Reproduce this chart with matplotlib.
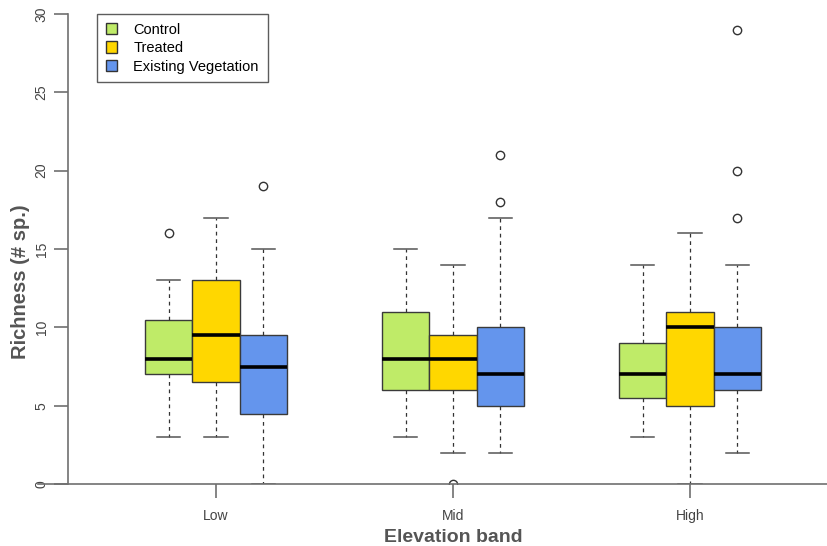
import matplotlib.pyplot as plt
from matplotlib.patches import Patch

plt.rcParams['font.family'] = ['Liberation Sans', 'DejaVu Sans']

bands = ["Low", "Mid", "High"]
treatments = ["Control", "Treated", "Existing Vegetation"]
colors = ["#BFEB68", "#FFD700", "#6495ED"]

# five-number summaries per band: [whislo, q1, med, q3, whishi]
control = [[3, 7, 8, 10.5, 13], [3, 6, 8, 11, 15], [3, 5.5, 7, 9, 14]]
treated = [[3, 6.5, 9.5, 13, 17], [2, 6, 8, 9.5, 14], [0, 5, 10, 11, 16]]
existing = [[0, 4.5, 7.5, 9.5, 15], [2, 5, 7, 10, 17], [2, 6, 7, 10, 14]]

control_out = [[16], [], []]
treated_out = [[], [0], []]
existing_out = [[19], [18, 21], [17, 20, 29]]

series = [(control, control_out), (treated, treated_out), (existing, existing_out)]

W, H = 827, 546
fig = plt.figure(figsize=(W / 100, H / 100), dpi=100)
ax = fig.add_axes([38 / W, (H - 484) / H, (W - 38) / W, (484 - 14) / H])

axis_col = "#707070"
text_col = "#555555"
offsets = [-0.2, 0.0, 0.2]

for k, (summ, outs) in enumerate(series):
    stats = []
    for s, o in zip(summ, outs):
        stats.append(dict(whislo=s[0], q1=s[1], med=s[2], q3=s[3], whishi=s[4], fliers=o))
    pos = [i + 1 + offsets[k] for i in range(len(bands))]
    ax.bxp(stats, positions=pos, widths=0.2, patch_artist=True, capwidths=0.1,
           boxprops=dict(facecolor=colors[k], edgecolor="#3a3a3a", linewidth=1),
           medianprops=dict(color="black", linewidth=2.6),
           whiskerprops=dict(color="#333333", linestyle=(0, (3, 3)), linewidth=0.9),
           capprops=dict(color="#555555", linewidth=1.1),
           flierprops=dict(marker="o", markerfacecolor="none", markeredgecolor="#333333",
                           markersize=6, markeredgewidth=1))

ax.set_xlim(0.249, 3.578)
ax.set_ylim(0, 30)

for side in ["top", "right"]:
    ax.spines[side].set_visible(False)
ax.spines["left"].set_position(("data", 0.376))
ax.spines["left"].set_bounds(0, 30)
for side in ["left", "bottom"]:
    ax.spines[side].set_color(axis_col)
    ax.spines[side].set_linewidth(1.2)

ax.set_xticks([1, 2, 3])
ax.set_xticklabels(bands)
ax.set_yticks([0, 5, 10, 15, 20, 25, 30])
ax.tick_params(axis="both", length=10, width=1.2, color=axis_col, labelcolor="#444444",
               labelsize=10)
ax.tick_params(axis="x", pad=8)
ax.tick_params(axis="y", pad=4)
for lab in ax.get_yticklabels():
    lab.set_rotation(90)
    lab.set_va("center")

fig.text(453 / W, 1 - 537 / H, "Elevation band", ha="center", va="center",
         fontsize=14, fontweight="bold", color=text_col)
fig.text(21 / W, 1 - 282 / H, "Richness (# sp.)", ha="center", va="center", rotation=90,
         fontsize=14.5, fontweight="bold", color=text_col)

handles = [Patch(facecolor=c, edgecolor="#333333", label=t) for c, t in zip(colors, treatments)]
leg = ax.legend(handles=handles, loc="upper left", bbox_to_anchor=((97 - 38) / (W - 38), 1.0),
                fontsize=10.5, frameon=True, fancybox=False, handlelength=0.8, handleheight=0.8,
                handletextpad=1.1, labelspacing=0.3, borderpad=0.6, borderaxespad=0)
leg.get_frame().set_edgecolor("#333333")
leg.get_frame().set_linewidth(1)

fig.savefig("out.png", dpi=100)
